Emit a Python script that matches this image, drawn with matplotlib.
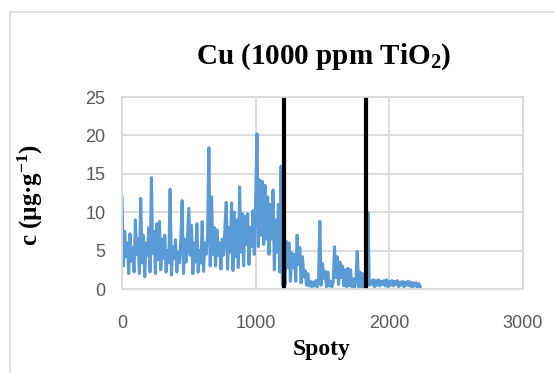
import matplotlib
matplotlib.use('Agg')
import matplotlib.pyplot as plt
from matplotlib.lines import Line2D

# Cu concentration per spot (every 10 spots)
spot_step = 10
cu = [
    12.0, 3.0, 7.5, 4.2, 6.0, 2.0, 7.2, 3.6, 5.4, 2.2,
    9.0, 4.5, 6.5, 2.0, 11.8, 3.4, 7.0, 1.6, 6.0, 4.3,
    8.0, 2.2, 14.5, 4.6, 7.5, 2.0, 8.5, 3.8, 8.8, 2.5,
    6.5, 4.0, 7.0, 2.2, 5.0, 3.4, 13.0, 1.8, 5.5, 4.0,
    6.4, 2.2, 4.8, 3.4, 6.5, 11.5, 2.0, 6.5, 3.5, 7.0,
    10.5, 4.4, 8.3, 2.0, 6.0, 3.5, 8.5, 2.2, 5.0, 3.4,
    8.8, 2.3, 6.0, 4.5, 7.0, 18.4, 3.0, 12.0, 4.5, 8.0,
    3.0, 7.7, 4.4, 6.0, 2.6, 6.5, 4.4, 8.0, 11.3, 2.6,
    8.0, 4.8, 11.2, 2.4, 10.0, 4.2, 9.0, 2.8, 13.3, 4.8,
    9.8, 3.0, 9.5, 5.8, 9.8, 3.2, 8.0, 5.5, 10.2, 4.5,
    12.0, 20.2, 5.5, 14.2, 7.0, 14.0, 5.8, 13.5, 6.5, 12.0,
    4.5, 11.0, 6.5, 12.9, 2.5, 9.0, 4.8, 11.0, 2.2, 16.0,
    0.5, 3.0, 0.6, 6.2, 2.8, 6.0, 1.0, 4.7, 2.8, 4.5,
    1.0, 7.0, 3.2, 5.4, 0.8, 4.2, 1.6, 2.4, 0.5, 2.0,
    0.4, 1.0, 0.3, 0.9, 0.4, 1.1, 0.3, 1.0, 8.8, 0.5,
    3.3, 1.4, 2.3, 0.3, 2.2, 0.4, 1.0, 0.3, 0.9, 5.5,
    1.5, 4.2, 0.6, 3.5, 1.5, 3.0, 0.4, 2.5, 0.3, 2.7,
    0.4, 2.5, 0.3, 1.3, 0.2, 1.2, 4.9, 0.3, 2.2, 0.3,
    2.0, 0.2, 1.0, 0.3, 10.0, 0.5, 1.1, 0.6, 1.2, 0.3,
    1.1, 0.5, 1.2, 0.4, 1.0, 0.6, 1.1, 0.4, 1.2, 0.3,
    1.0, 0.5, 1.1, 0.4, 1.0, 0.6, 1.1, 0.3, 0.9, 0.5,
    1.0, 0.3, 0.9, 0.5, 1.0, 0.4, 0.9, 0.2, 0.8, 0.4,
    0.8, 0.2, 0.7, 0.3,
]
spots = [i * spot_step for i in range(len(cu))]
markers = [1209, 1825]

x_ticks = [0, 1000, 2000, 3000]
y_ticks = [0, 5, 10, 15, 20, 25]

plt.rcParams['mathtext.fontset'] = 'custom'
plt.rcParams['mathtext.rm'] = 'Liberation Serif:bold'
plt.rcParams['mathtext.it'] = 'Liberation Serif:bold'
plt.rcParams['mathtext.bf'] = 'Liberation Serif:bold'
plt.rcParams['mathtext.default'] = 'rm'

W, H = 554, 373
fig = plt.figure(figsize=(W / 100, H / 100), dpi=100)
ax = fig.add_axes([122 / W, 1 - 289 / H, (523 - 122) / W, (289 - 97) / H])

ax.plot(spots, cu, color='#5B9BD5', lw=2.2)
for m in markers:
    ax.axvline(m, color='black', lw=3)

ax.set_xlim(0, 3000)
ax.set_ylim(0, 25)
ax.set_xticks(x_ticks)
ax.set_yticks(y_ticks)
ax.grid(True, color='#D9D9D9', lw=1.3)
ax.set_axisbelow(True)
for s in ax.spines.values():
    s.set_color('#D9D9D9')
    s.set_linewidth(1.3)
ax.tick_params(length=0, labelcolor='#595959', labelsize=13)
ax.tick_params(axis='x', pad=19)
ax.tick_params(axis='y', pad=12)
for lab in ax.get_xticklabels() + ax.get_yticklabels():
    lab.set_family('Liberation Sans')

fig.text(324 / W, 1 - 57 / H, 'Cu (1000 ppm TiO$_2$)', ha='center', va='center',
         family='Liberation Serif', weight='bold', fontsize=21)
fig.text(322 / W, 1 - 350 / H, 'Spoty', ha='center', va='center',
         family='Liberation Serif', weight='bold', fontsize=17)
fig.text(30 / W, 1 - 195 / H, 'c (µg·g$^{-1}$)', ha='center', va='center', rotation=90,
         family='Liberation Serif', weight='bold', fontsize=18)

# outer chart frame (cut off at right and bottom)
fig.add_artist(Line2D([10 / W, 1], [1 - 12 / H, 1 - 12 / H], color='#D9D9D9', lw=1.2))
fig.add_artist(Line2D([10 / W, 10 / W], [1 - 12 / H, 0], color='#D9D9D9', lw=1.2))

fig.savefig('out.png', dpi=100)
